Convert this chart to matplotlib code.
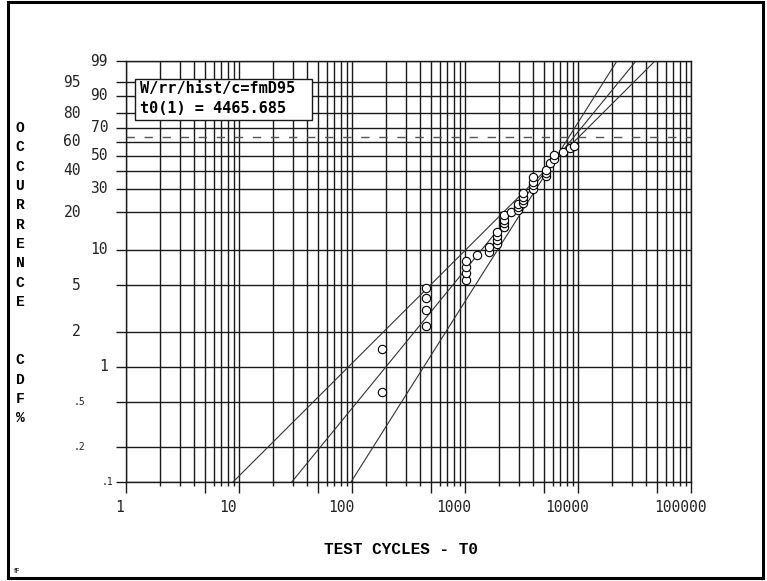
import numpy as np
import matplotlib.pyplot as plt
from matplotlib.patches import Rectangle
from matplotlib.ticker import FixedLocator, NullFormatter
import matplotlib.transforms as mtransforms

# failure data (cycles, median rank %)
cycles = [183, 183,
          452, 452, 452, 452,
          1031, 1031, 1031, 1031,
          1290,
          1647, 1647,
          1939, 1939, 1939, 1939,
          2214, 2214, 2214, 2214,
          2579,
          2944, 2944, 2944,
          3261, 3261, 3261, 3261,
          3957, 3957, 3957, 3957,
          5262, 5262, 5262,
          5652,
          6132, 6132,
          7368, 8500, 9218]
cdf_pct = [0.60, 1.42,
           2.27, 3.09, 3.94, 4.73,
           5.57, 6.34, 7.16, 8.03,
           8.93,
           9.60, 10.56,
           11.11, 11.98, 12.91, 13.90,
           15.12, 16.27, 17.50, 18.98,
           20.03,
           20.58, 21.89, 23.28,
           23.49, 24.74, 26.19, 27.90,
           29.60, 31.63, 33.76, 36.00,
           37.15, 38.80, 40.76,
           44.62,
           47.62, 50.36,
           52.12, 55.11, 56.77]

# fitted line and bounds: cycles where each line crosses 0.1 % and 99 %
line_t_low = [8.85, 29.3, 98]
line_t_high = [48000, 32600, 22100]

y_levels = [0.1, 0.2, 0.5, 1, 2, 5, 10, 20, 30, 40, 50, 60, 70, 80, 90, 95, 99]
y_labels = ['.1', '.2', '.5', '1', '2', '5', '10', '20', '30', '40', '50',
            '60', '70', '80', '90', '95', '99']
y_left_col = ['.2', '.5', '2', '5', '20', '40', '60', '80', '95']
x_decades = [1, 10, 100, 1000, 10000, 100000]
x_labels = ['1', '10', '100', '1000', '10000', '100000']
eta_pct = 63.2


def weib_fwd(p):
    p = np.clip(np.asarray(p, dtype=float), 1e-6, 99.99999)
    return np.log(-np.log(1 - p / 100.0))


def weib_inv(w):
    return 100.0 * (1 - np.exp(-np.exp(np.asarray(w, dtype=float))))


W, H = 767, 581
fig = plt.figure(figsize=(W / 100, H / 100), dpi=100)
ax = fig.add_axes([126 / W, 99 / H, 565 / W, 421 / H])

ax.set_xscale('log')
ax.set_yscale('function', functions=(weib_fwd, weib_inv))
ax.set_xlim(1, 100000)
ax.set_ylim(0.1, 99)

# grid
x_major = [m * d for d in x_decades[:-1] for m in (1, 5)] + [100000]
x_minor = [m * d for d in x_decades[:-1] for m in (2, 3, 4, 6, 7, 8, 9)]
ax.xaxis.set_major_locator(FixedLocator(x_major))
ax.xaxis.set_minor_locator(FixedLocator(x_minor))
ax.xaxis.set_major_formatter(NullFormatter())
ax.xaxis.set_minor_formatter(NullFormatter())
ax.yaxis.set_major_locator(FixedLocator(y_levels))
ax.yaxis.set_minor_locator(FixedLocator([]))
ax.yaxis.set_major_formatter(NullFormatter())
ax.grid(True, which='both', color='#1a1a1a', lw=1.0)
ax.tick_params(axis='x', which='major', length=8, width=1, color='#1a1a1a')
ax.tick_params(axis='x', which='minor', length=3, width=1, color='#1a1a1a')
ax.tick_params(axis='y', which='major', length=7, width=1, color='#1a1a1a')
for s in ax.spines.values():
    s.set_color('#1a1a1a')
    s.set_linewidth(1.0)

ax.axhline(eta_pct, color='#555555', lw=1.0, dashes=(6, 7))

# fit lines
for tl, th in zip(line_t_low, line_t_high):
    ax.plot([tl, th], [0.1, 99], color='#333333', lw=0.8)

ax.plot(cycles, cdf_pct, 'o', ms=6, mfc='white', mec='black', mew=0.8, zorder=5)

# y tick labels, staggered in two columns
ytrans = mtransforms.blended_transform_factory(fig.transFigure, ax.transData)
for lev, lab in zip(y_levels, y_labels):
    small = lab.startswith('.')
    if lab in y_left_col:
        xp = 85 if small else 81
    else:
        xp = 113 if small else 108
    ax.text(xp / W, lev, lab, transform=ytrans, ha='right', va='center',
            fontsize=7 if small else 10.5, family='DejaVu Sans Mono',
            color='#222222')

# x tick labels
xtrans = mtransforms.blended_transform_factory(ax.transData, fig.transFigure)
for xv, lab in zip(x_decades, x_labels):
    off = mtransforms.ScaledTranslation(-11 / 100 if xv > 1 else -6 / 100, 0,
                                        fig.dpi_scale_trans)
    ax.text(xv, 1 - 508 / H, lab, transform=xtrans + off, ha='center',
            va='center', fontsize=10.5, family='DejaVu Sans Mono',
            color='#222222')

fig.text(401 / W, 1 - 550 / H, 'TEST CYCLES - T0', ha='center', va='center',
         fontsize=11.5, family='Liberation Mono', weight='bold')

ylabel = 'OCCURRENCE CDF %'
for i, ch in enumerate(ylabel):
    if ch == ' ':
        continue
    k = i if i < 10 else (i + 1 if i < 14 else 15)
    fig.text(20 / W, 1 - (128 + 19.35 * k) / H, ch, ha='center', va='center',
             fontsize=10.5, family='Liberation Mono', weight='bold')

# annotation box
fig.patches.append(Rectangle((135 / W, 1 - 120 / H), 177 / W, 41 / H,
                             transform=fig.transFigure, facecolor='white',
                             edgecolor='#1a1a1a', lw=1.0, zorder=10))
fig.text(140 / W, 1 - 89 / H, 'W/rr/hist/c=fmD95', ha='left', va='center',
         fontsize=11, family='DejaVu Sans Mono', weight='bold', zorder=11)
fig.text(140 / W, 1 - 108 / H, 't0(1) = 4465.685', ha='left', va='center',
         fontsize=11, family='DejaVu Sans Mono', weight='bold', zorder=11)

fig.text(14 / W, 1 - 571 / H, 'fF', ha='left', va='center', fontsize=5,
         family='DejaVu Sans')

# outer frame
fig.patches.append(Rectangle((7.5 / W, 3 / H), 755.5 / W, 576 / H,
                             transform=fig.transFigure, fill=False,
                             edgecolor='black', lw=2.2))

fig.savefig('out.png', dpi=100)
